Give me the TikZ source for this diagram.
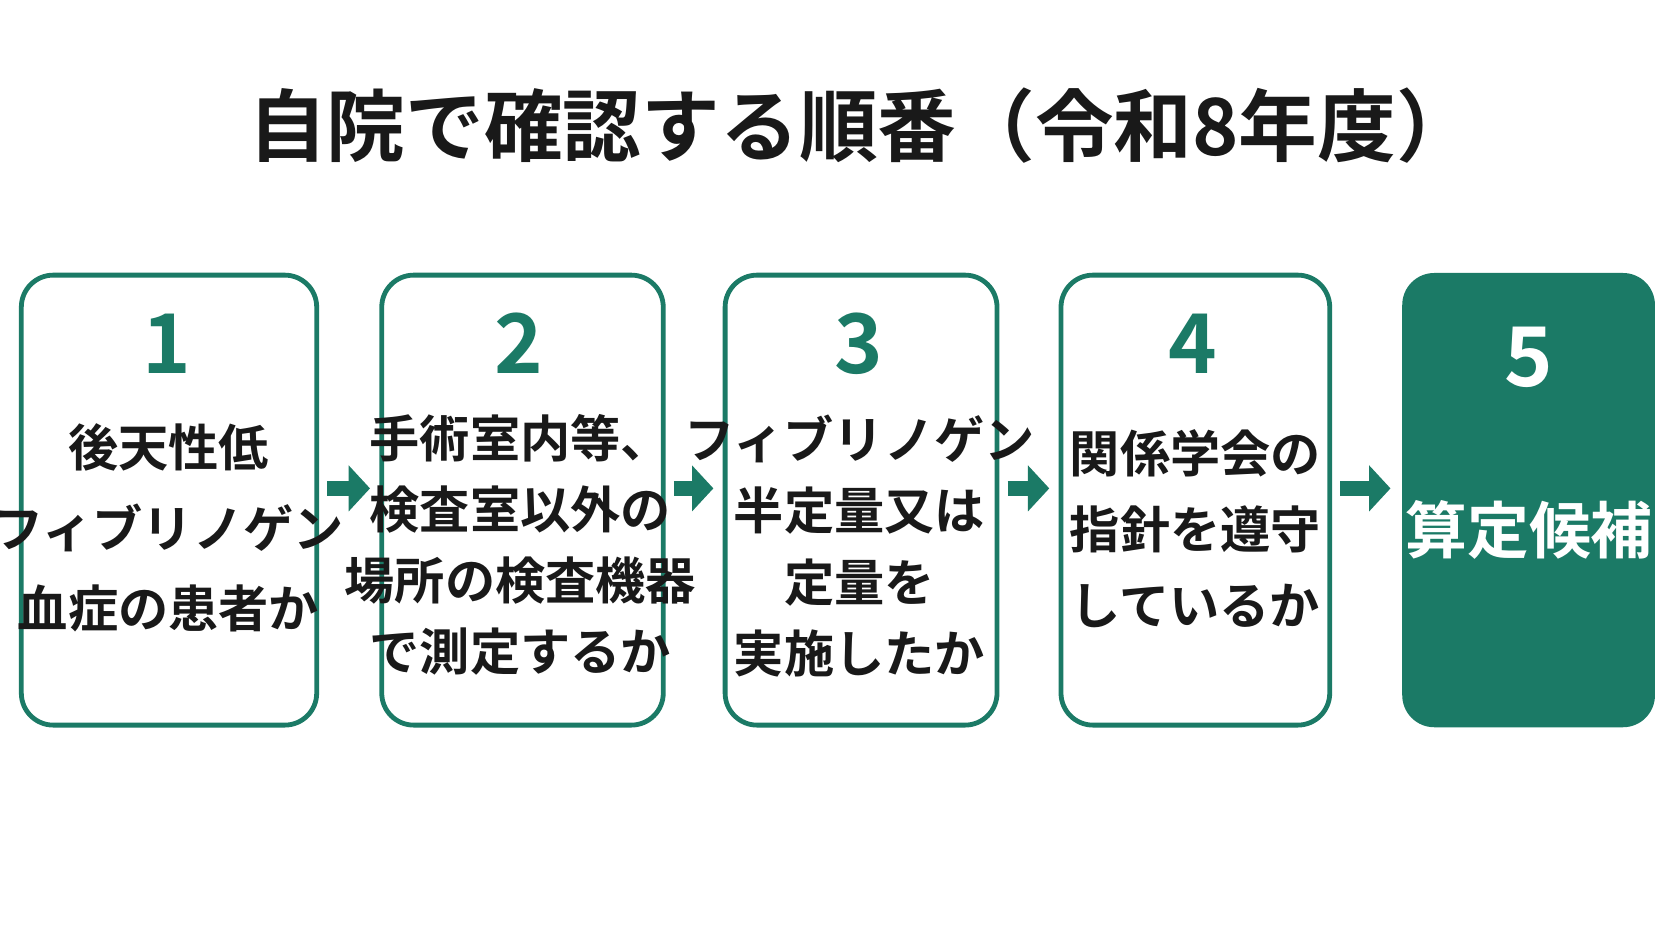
\documentclass[tikz,border=0pt]{standalone}
\usepackage{fontspec}
\newfontfamily\cjk{Noto Sans CJK JP}[BoldFont={Noto Sans CJK JP Bold}]
\usetikzlibrary{arrows.meta, positioning}
\definecolor{deepgreen}{HTML}{1B7A66}

\tikzset{
    stepbox/.style={draw=deepgreen, line width=0.045cm, rounded corners=0.3cm, fill=white},
    stepnum/.style={text=deepgreen, font=\cjk\bfseries\fontsize{22}{22}\selectfont},
    steptext/.style={align=center, text=black!90, font=\cjk\bfseries\fontsize{13.4}{#1}\selectfont},
    steptext/.default=19pt,
    flow/.style={draw=deepgreen, line width=0.14cm, -{Triangle[length=0.2cm, width=0.42cm]}, shorten <=0.1cm, shorten >=0.11cm}
}

\begin{document}
\begin{tikzpicture}
    \useasboundingbox (0,0) rectangle (15.68,8.82);
    \fill[white] (0,0) rectangle (15.68,8.82);

    \node[font=\cjk\bfseries\fontsize{21}{21}\selectfont, text=black!90] (title) at (8.08,7.64) {自院で確認する順番（令和8年度）};

    % boxes
    \draw[stepbox] (0.20,2.02) rectangle (2.97,6.24);
    \draw[stepbox] (3.58,2.02) rectangle (6.22,6.24);
    \draw[stepbox] (6.80,2.02) rectangle (9.35,6.24);
    \draw[stepbox] (9.95,2.02) rectangle (12.47,6.24);
    \fill[deepgreen, rounded corners=0.3cm] (13.15,2.00) rectangle (15.52,6.26);
    \coordinate (b1) at (2.97,4.24);
    \coordinate (b2a) at (3.58,4.24);
    \coordinate (b2) at (6.22,4.24);
    \coordinate (b3a) at (6.80,4.24);
    \coordinate (b3) at (9.35,4.24);
    \coordinate (b4a) at (9.95,4.24);
    \coordinate (b4) at (12.47,4.24);
    \coordinate (b5a) at (13.15,4.24);

    % numbers
    \node[stepnum] (n1) at (1.56,5.60) {1};
    \node[stepnum] (n2) at (4.87,5.60) {2};
    \node[stepnum] (n3) at (8.05,5.60) {3};
    \node[stepnum] (n4) at (11.19,5.60) {4};
    \node[stepnum, text=white] (n5) at (14.34,5.47) {5};

    % texts
    \node[steptext=21.6pt] (t1) at (1.58,3.87) {後天性低\\フィブリノゲン\\血症の患者か};
    \node[steptext] (t2) at (4.88,3.71) {手術室内等、\\検査室以外の\\場所の検査機器\\で測定するか};
    \node[steptext] (t3) at (8.06,3.70) {フィブリノゲン\\半定量又は\\定量を\\実施したか};
    \node[steptext=20.3pt] (t4) at (11.21,3.86) {関係学会の\\指針を遵守\\しているか};
    \node[font=\cjk\bfseries\fontsize{16.5}{16.5}\selectfont, text=white] (t5) at (14.34,3.85) {算定候補};

    % arrows
    \draw[flow] (b1) -- (b2a);
    \draw[flow] (b2) -- (b3a);
    \draw[flow] (b3) -- (b4a);
    \draw[flow] (b4) -- (b5a);
\end{tikzpicture}
\end{document}
